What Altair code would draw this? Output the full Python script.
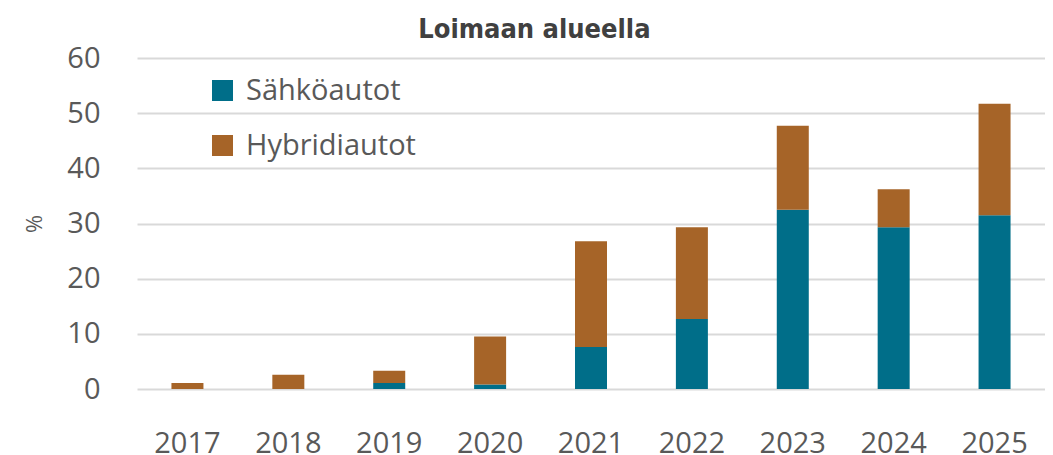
import altair as alt
import pandas as pd

years = ["2017", "2018", "2019", "2020", "2021", "2022", "2023", "2024", "2025"]
sahko = [0.0, 0.0, 1.1, 0.8, 7.6, 12.7, 32.5, 29.3, 31.5]
hybrid = [1.1, 2.6, 2.2, 8.7, 19.2, 16.6, 15.2, 6.9, 20.2]
series = ["Sähköautot", "Hybridiautot"]
colors = ["#006E89", "#A66428"]
y_ticks = [0, 10, 20, 30, 40, 50, 60]

rows = []
for i, yr in enumerate(years):
    rows.append({"Vuosi": yr, "Tyyppi": series[0], "Arvo": sahko[i], "Jarj": 0})
    rows.append({"Vuosi": yr, "Tyyppi": series[1], "Arvo": hybrid[i], "Jarj": 1})
df = pd.DataFrame(rows)

FONT = "Open Sans"
TXT = "#595959"

chart = alt.Chart(df).mark_bar(size=32).encode(
    x=alt.X(
        "Vuosi:N",
        sort=years,
        scale=alt.Scale(paddingInner=0, paddingOuter=0),
        axis=alt.Axis(
            title=None, labelAngle=0, domain=False, ticks=False, grid=False,
            labelPadding=40, labelFontSize=29, labelColor=TXT, labelFont=FONT,
        ),
    ),
    y=alt.Y(
        "Arvo:Q",
        stack="zero",
        scale=alt.Scale(domain=[0, 60], nice=False),
        axis=alt.Axis(
            values=y_ticks, title="%", domain=False, ticks=False,
            labelPadding=37, labelFontSize=29, labelColor=TXT, labelFont=FONT,
            titleFontSize=22, titleFont=FONT, titleColor=TXT, titleFontWeight="normal",
            titlePadding=20, gridColor="#D9D9D9", gridWidth=2,
        ),
    ),
    color=alt.Color(
        "Tyyppi:N",
        scale=alt.Scale(domain=series, range=colors),
        legend=alt.Legend(
            title=None, orient="none", legendX=71, legendY=18, padding=0,
            symbolType="square", symbolSize=441, symbolStrokeWidth=0,
            labelFontSize=29, labelFont=FONT, labelColor=TXT, labelOffset=9,
            labelLimit=0, rowPadding=25, direction="vertical",
        ),
    ),
    order=alt.Order("Jarj:Q"),
).properties(
    width=908,
    height=331,
    title=alt.TitleParams(
        "Loimaan alueella", fontSize=27,
        font="DejaVu Sans Condensed, sans-serif",
        fontWeight="bold", color="#404040", anchor="middle", frame="bounds", offset=0,
    ),
    autosize=alt.AutoSizeParams(type="none"),
    padding={"left": 129, "top": 50, "right": 0, "bottom": 75},
).configure_view(stroke=None)

chart.save("out.html", embed_options={"renderer": "svg", "actions": False})
